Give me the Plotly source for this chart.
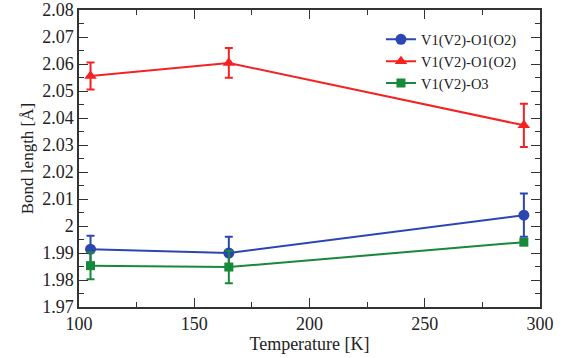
import plotly.graph_objects as go

temps = [105, 165, 293]
s1_name = "V1(V2)-O1(O2)"
s1_vals = [1.9914, 1.9900, 2.0040]
s1_err = [0.005, 0.006, 0.008]
s2_name = "V1(V2)-O1(O2)"
s2_vals = [2.0556, 2.0604, 2.0373]
s2_err = [0.005, 0.0055, 0.008]
s3_name = "V1(V2)-O3"
s3_vals = [1.9853, 1.9848, 1.9940]
s3_err = [0.005, 0.006, 0.001]

font_family = "Liberation Serif"

fig = go.Figure()
for name, vals, err, col, sym, msize in [
    (s1_name, s1_vals, s1_err, "#2b46b3", "circle", 11),
    (s2_name, s2_vals, s2_err, "#f42222", "triangle-up", 11),
    (s3_name, s3_vals, s3_err, "#17893a", "square", 9),
]:
    fig.add_trace(go.Scatter(
        x=temps, y=vals, name=name, mode="lines+markers",
        line=dict(color=col, width=2),
        marker=dict(symbol=sym, size=msize, color=col),
        error_y=dict(type="data", array=err, visible=True, color=col, thickness=2, width=4),
    ))

axis_common = dict(
    showline=True, linecolor="#333333", linewidth=1.5, mirror="allticks",
    ticks="inside", ticklen=9, tickwidth=1.3, tickcolor="#333333",
    showgrid=False, zeroline=False, automargin=False,
    tickfont=dict(family=font_family, size=18, color="#222222"),
)

fig.update_layout(
    width=568, height=358,
    margin=dict(l=79, r=28, t=10, b=51),
    paper_bgcolor="white", plot_bgcolor="white",
    font=dict(family=font_family, color="#222222"),
    showlegend=True,
    legend=dict(x=0.655, y=0.955, xanchor="left", yanchor="top",
                font=dict(family=font_family, size=14.5, color="#222222"),
                bgcolor="rgba(0,0,0,0)", tracegroupgap=0, itemwidth=30),
    xaxis=dict(range=[100, 300], tickvals=[100, 150, 200, 250, 300],
               minor=dict(ticks="inside", ticklen=5, tickcolor="#333333", dtick=25, tick0=100, showgrid=False),
               title=dict(text="Temperature [K]", font=dict(family=font_family, size=18), standoff=0),
               **axis_common),
    yaxis=dict(range=[1.97, 2.08], dtick=0.01, tick0=1.97,
               tickformat=".2~f",
               minor=dict(ticks="inside", ticklen=5, tickcolor="#333333", dtick=0.005, tick0=1.97, showgrid=False),
               title=dict(text="Bond length [Å]", font=dict(family=font_family, size=17), standoff=4),
               **axis_common),
)

# remove the page's default body margin so the figure fills the window exactly
fig.write_html("out.html", config={"displayModeBar": False},
               post_script="document.body.style.margin='0';")
